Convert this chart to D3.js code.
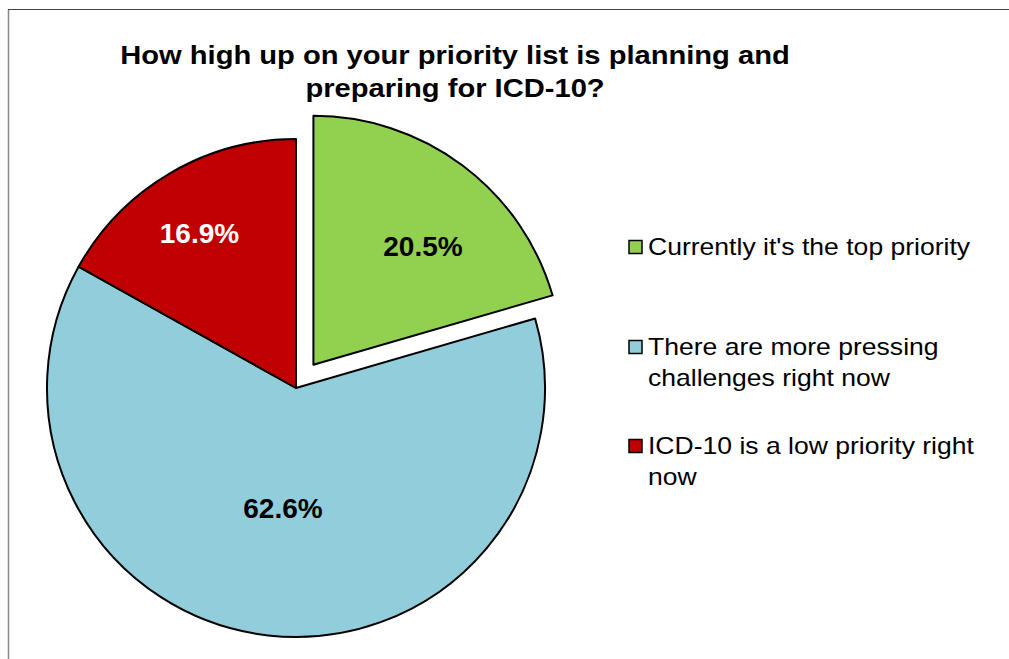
<!DOCTYPE html>
<html><head><meta charset="utf-8">
<script src="https://cdn.jsdelivr.net/npm/d3@7"></script>
<style>body{margin:0;background:#fff;}svg{display:block;font-family:"Liberation Sans",Arial,sans-serif;}</style>
</head><body>
<svg id="c" width="1009" height="659"></svg>
<script>
const categories = ["Currently it's the top priority","There are more pressing challenges right now","ICD-10 is a low priority right now"];
const legendLines = [["Currently it's the top priority"],["There are more pressing","challenges right now"],["ICD-10 is a low priority right","now"]];
const values = [20.5, 62.6, 16.9];
const labels = ["20.5%","62.6%","16.9%"];
const colors = ["#92D050","#92CDDC","#C00000"];
const labelColors = ["#000","#000","#fff"];
const explode = [29, 0, 0];
const titleLines = ["How high up on your priority list is planning and","preparing for ICD-10?"];

const svg = d3.select("#c");
svg.append("line").attr("x1",8.5).attr("y1",9.5).attr("x2",8.5).attr("y2",659).attr("stroke","#888").attr("stroke-width",1.5);
svg.append("line").attr("x1",8).attr("y1",9.5).attr("x2",1009).attr("y2",9.5).attr("stroke","#444").attr("stroke-width",1.2);

svg.append("g").attr("transform","translate(455,0) scale(1.165,1)")
  .append("text").attr("text-anchor","middle").attr("font-weight","bold").attr("font-size",25)
  .selectAll("tspan").data(titleLines).join("tspan").attr("x",0).attr("y",(d,i)=>64+i*33).text(d=>d);

const cx=296, cy=388, R=249;
const pie = d3.pie().sort(null).value(d=>d)(values);
const arc = d3.arc().innerRadius(0).outerRadius(R);
const g = svg.append("g").attr("transform",`translate(${cx},${cy})`);
const slices = g.selectAll("g.s").data(pie).join("g").attr("class","s")
  .attr("transform",(d,i)=>{const a=(d.startAngle+d.endAngle)/2;return `translate(${explode[i]*Math.sin(a)},${-explode[i]*Math.cos(a)})`;});
slices.append("path").attr("d",arc).attr("fill",(d,i)=>colors[i]).attr("stroke","#000").attr("stroke-width",2).attr("stroke-linejoin","round");
const labelPos = [[423,256],[283,518],[199.5,243]];
slices.append("text").attr("text-anchor","middle").attr("font-weight","bold").attr("font-size",28)
  .attr("fill",(d,i)=>labelColors[i])
  .attr("x",(d,i)=>{const a=(d.startAngle+d.endAngle)/2;return labelPos[i][0]-cx-explode[i]*Math.sin(a);})
  .attr("y",(d,i)=>{const a=(d.startAngle+d.endAngle)/2;return labelPos[i][1]-cy+explode[i]*Math.cos(a);})
  .text((d,i)=>labels[i]);

const legY = [247,347,446];
const leg = svg.append("g");
categories.forEach((c,i)=>{
  leg.append("rect").attr("x",629).attr("y",legY[i]-6.5).attr("width",13).attr("height",13).attr("fill",colors[i]).attr("stroke","#000").attr("stroke-width",1.5);
  leg.append("g").attr("transform","translate(648,0) scale(1.154,1)")
    .append("text").attr("font-size",23).attr("fill","#000")
    .selectAll("tspan").data(legendLines[i]).join("tspan").attr("x",0).attr("y",(d,j)=>legY[i]+8+j*31).text(d=>d);
});
</script>
</body></html>
